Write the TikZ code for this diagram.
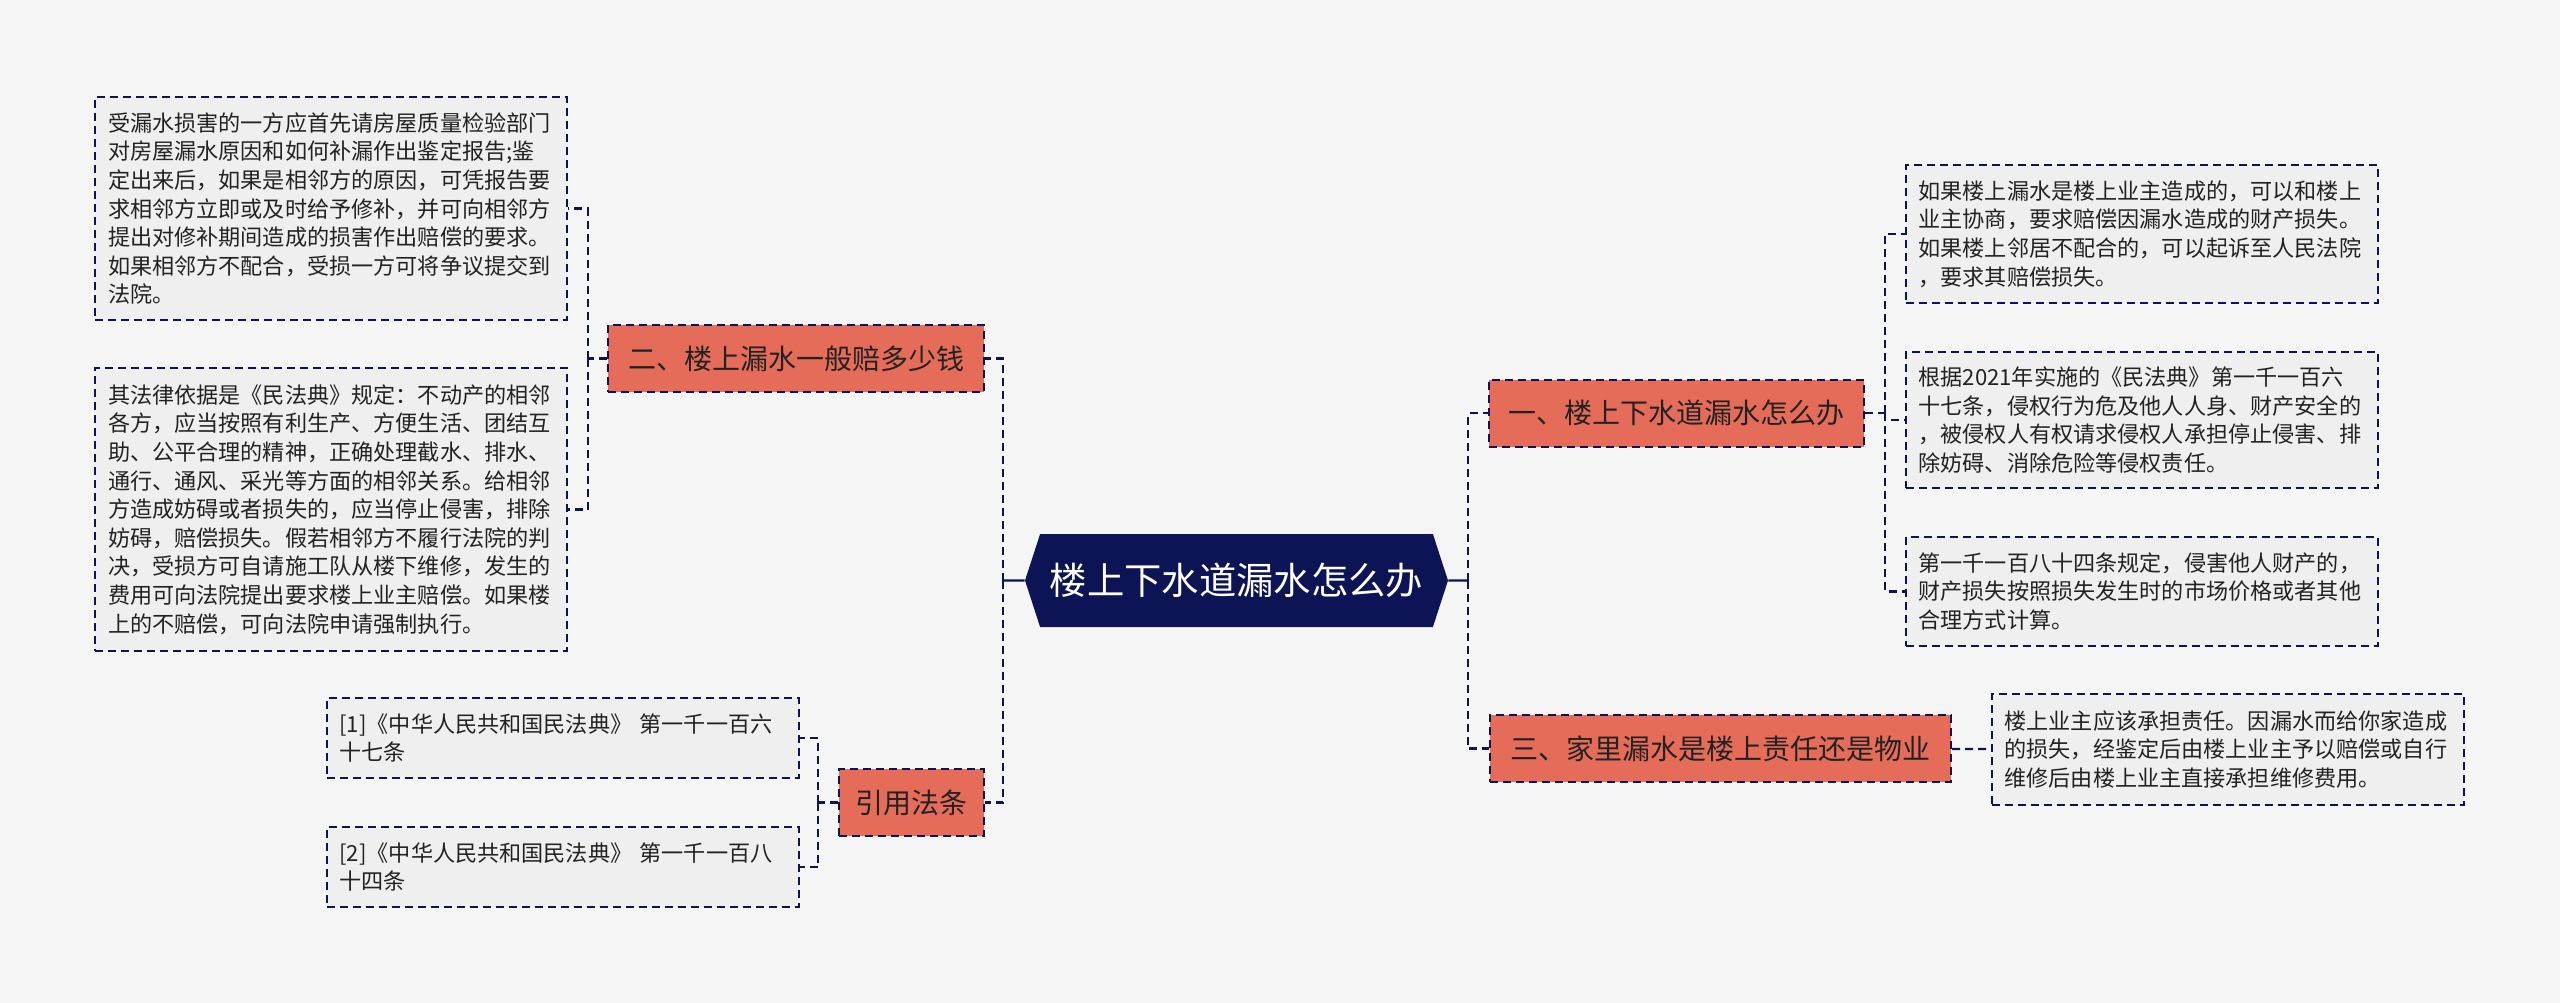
\documentclass[tikz,border=0pt]{standalone}
\usepackage{fontspec}
\setmainfont{Noto Sans CJK SC}
\usepackage{tikz}
\definecolor{darknavy}{RGB}{13,20,85}
\definecolor{coral}{RGB}{230,108,90}
\definecolor{paper}{RGB}{245,245,245}
\definecolor{boxgray}{RGB}{239,239,239}
\definecolor{ink}{RGB}{34,34,34}
\usetikzlibrary{shapes.symbols}
\usetikzlibrary{positioning}

\begin{document}
\begin{tikzpicture}[x=0.75pt, y=-0.75pt]
        \tikzset{every node/.style={inner sep=0pt, text=ink},
                main/.style={signal, signal to=west and east, signal pointer angle=144,
                        fill=darknavy, text=white, font=\fontsize{28}{34}\selectfont,
                        minimum width=317.25pt, minimum height=69.75pt},
                branch/.style={rectangle, fill=coral, draw=darknavy, line width=1.5pt,
                        dash pattern=on 6pt off 3.75pt, minimum height=50.25pt,
                        font=\fontsize{21}{26}\selectfont},
                leaf/.style={rectangle, fill=boxgray, draw=darknavy, line width=1.5pt,
                        dash pattern=on 6pt off 3.75pt, text width=334.5pt, align=left,
                        inner xsep=9.75pt, font=\fontsize{16.6}{21.45}\selectfont},
                link/.style={draw=darknavy, line width=1.7pt, dash pattern=on 6pt off 3.75pt},
                stem/.style={draw=darknavy, line width=1.7pt},
                hv/.style={to path={|- (\tikztotarget)}}}

        \fill[paper] (0,0) rectangle (2560,1003);
        \useasboundingbox (0,0) rectangle (2560,1003);

        \node[main] (1) at (1236.5, 580.5) {楼上下水道漏水怎么办};
        \node[branch, minimum width=281.25pt] (2) at (1676.5, 413) {一、楼上下水道漏水怎么办};
        \node[branch, minimum width=282pt] (3) at (796, 358.5) {二、楼上漏水一般赔多少钱};
        \node[branch, minimum width=345.75pt] (4) at (1720.5, 748.5) {三、家里漏水是楼上责任还是物业};
        \node[branch, minimum width=108.75pt] (5) at (911.5, 802.5) {引用法条};

        \node[leaf, minimum height=103.5pt] (6) at (2141.5, 234) {如果楼上漏水是楼上业主造成的，可以和楼上\\业主协商，要求赔偿因漏水造成的财产损失。\\如果楼上邻居不配合的，可以起诉至人民法院\\，要求其赔偿损失。};
        \node[leaf, minimum height=102pt] (7) at (2141.5, 420) {根据2021年实施的《民法典》第一千一百六\\十七条，侵权行为危及他人人身、财产安全的\\，被侵权人有权请求侵权人承担停止侵害、排\\除妨碍、消除危险等侵权责任。};
        \node[leaf, minimum height=81.75pt] (8) at (2141.5, 591.5) {第一千一百八十四条规定，侵害他人财产的，\\财产损失按照损失发生时的市场价格或者其他\\合理方式计算。};
        \node[leaf, minimum height=83.25pt] (9) at (2227.5, 749.5) {楼上业主应该承担责任。因漏水而给你家造成\\的损失，经鉴定后由楼上业主予以赔偿或自行\\维修后由楼上业主直接承担维修费用。};
        \node[leaf, minimum height=167.25pt] (10) at (331, 208.5) {受漏水损害的一方应首先请房屋质量检验部门\\对房屋漏水原因和如何补漏作出鉴定报告;鉴\\定出来后，如果是相邻方的原因，可凭报告要\\求相邻方立即或及时给予修补，并可向相邻方\\提出对修补期间造成的损害作出赔偿的要求。\\如果相邻方不配合，受损一方可将争议提交到\\法院。};
        \node[leaf, minimum height=212.25pt] (11) at (331, 509.5) {其法律依据是《民法典》规定：不动产的相邻\\各方，应当按照有利生产、方便生活、团结互\\助、公平合理的精神，正确处理截水、排水、\\通行、通风、采光等方面的相邻关系。给相邻\\方造成妨碍或者损失的，应当停止侵害，排除\\妨碍，赔偿损失。假若相邻方不履行法院的判\\决，受损方可自请施工队从楼下维修，发生的\\费用可向法院提出要求楼上业主赔偿。如果楼\\上的不赔偿，可向法院申请强制执行。};
        \node[leaf, minimum height=60pt] (12) at (562.5, 738) {[1]《中华人民共和国民法典》 第一千一百六\\十七条};
        \node[leaf, minimum height=60pt] (13) at (562.5, 867) {[2]《中华人民共和国民法典》 第一千一百八\\十四条};

        \coordinate (L) at (1003, 580.5);
        \coordinate (R) at (1468, 580.5);
        \coordinate (L3) at (588, 358.5);
        \coordinate (L5) at (818, 802.5);
        \coordinate (R2) at (1885, 413);

        \path [stem] (1) edge (L);
        \path [stem] (1) edge (R);
        \path [link] (L) edge[hv] (3);
        \path [link] (L) edge[hv] (5);
        \path [link] (R) edge[hv] (2);
        \path [link] (R) edge[hv] (4);
        \path [link] (3) edge (L3);
        \path [link] (L3) edge[hv] (10);
        \path [link] (L3) edge[hv] (11);
        \path [link] (5) edge (L5);
        \path [link] (L5) edge[hv] (12);
        \path [link] (L5) edge[hv] (13);
        \path [link] (2) edge (R2);
        \path [link] (R2) edge[hv] (6);
        \path [link] (R2) edge[hv] (7);
        \path [link] (R2) edge[hv] (8);
        \path [link] (4) edge (9);

    \end{tikzpicture}
\end{document}
